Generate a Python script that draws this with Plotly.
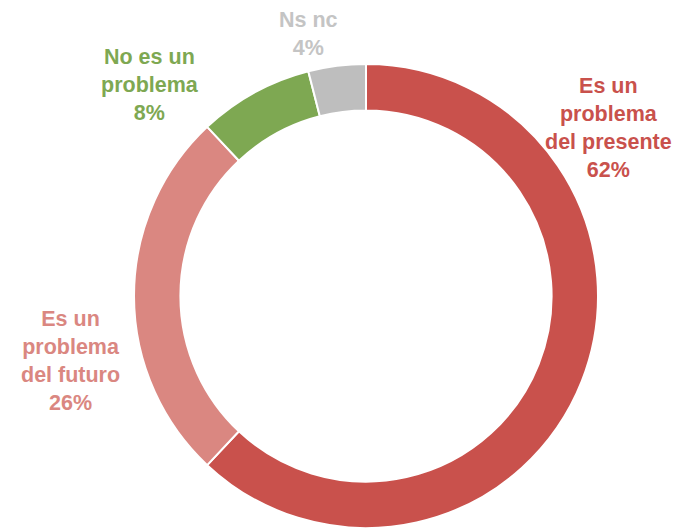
import plotly.graph_objects as go

categories = ["Es un problema del presente", "Es un problema del futuro", "No es un problema", "Ns nc"]
values = [62, 26, 8, 4]
label_lines = [["Es un", "problema", "del presente"], ["Es un", "problema", "del futuro"], ["No es un", "problema"], ["Ns nc"]]
colors = ["#C9514C", "#DA8781", "#7EA852", "#BEBEBE"]
text_colors = ["#C9514C", "#DA8781", "#7EA852", "#C4C4C4"]

W, H = 697, 531
cx, cy, R = 366, 296, 232

fig = go.Figure(go.Pie(
    labels=categories,
    values=values,
    hole=0.8,
    sort=False,
    direction="clockwise",
    rotation=0,
    marker=dict(colors=colors, line=dict(color="white", width=2)),
    textinfo="none",
    hoverinfo="label+percent",
    showlegend=False,
    domain=dict(x=[(cx - R) / W, (cx + R) / W], y=[(H - cy - R) / H, (H - cy + R) / H]),
))

# label centres (pixels)
label_pos = [(608, 128), (70, 361), (150, 85), (308, 34)]
for lines, v, col, (px, py) in zip(label_lines, values, text_colors, label_pos):
    fig.add_annotation(
        x=px / W, y=1 - py / H, xref="paper", yref="paper",
        text="<br>".join(lines + [f"{v}%"]),
        showarrow=False, align="center", xanchor="center", yanchor="middle",
        font=dict(family="Liberation Sans, Arial, sans-serif", size=21.5, color=col, weight="bold"),
    )

fig.update_layout(
    width=W, height=H,
    margin=dict(l=0, r=0, t=0, b=0),
    paper_bgcolor="white",
    plot_bgcolor="white",
)

fig.write_html("out.html", config={"displayModeBar": False},
               post_script="document.body.style.margin='0';")
